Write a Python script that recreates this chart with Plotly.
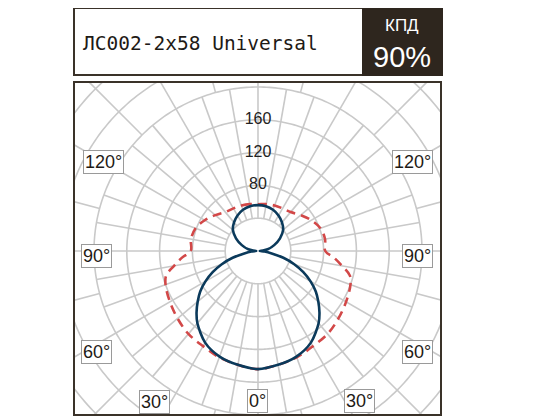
import numpy as np
import plotly.graph_objects as go

# ---- data (cd/klm) ----
angles_c0 = [0, 10, 20, 30, 40, 45, 50, 55, 60, 65, 70, 75, 80, 85, 90,
             95, 100, 110, 120, 130, 140, 150, 160, 170, 180]
values_c0 = [144, 141, 137, 129, 115, 106, 96, 86, 74, 61, 47, 32, 17, 8, 2,
             6, 12, 21, 31, 40, 45.5, 50, 53.5, 55.5, 56]

angles_c90 = [0, 10, 20, 30, 40, 50, 60, 70, 75, 80, 85, 90,
              100, 110, 120, 130, 140, 150, 160, 170, 180]
values_c90 = [144, 141, 138, 134, 132, 128, 124, 120, 116, 104, 93, 82,
              83, 81, 75, 68, 62, 60, 59, 58, 57]

ring_values = [40, 80, 120, 160, 200, 240, 280]
ring_labels = [80, 120, 160]
inner_spoke_step = 10      # spokes between the 40 and 200 rings
outer_spoke_step = 15      # spokes beyond the 200 ring
spoke_switch = 200
angle_labels = ["0°", "30°", "30°", "60°", "60°", "90°", "90°", "120°", "120°"]

title_text = "ЛС002-2x58 Universal"
eff_label = "КПД"
eff_value = "90%"

# page body has an 8px margin; the figure is taller than the window so the
# polar grid can reach the corners of the frame (the overflow is not shown)
OFF = 8
W, H = 533 - OFF, 500
CX, CY = 258, 251          # centre in window pixels
R_PX = 242
SCALE = 0.82
RMAX = R_PX / SCALE

def px(x): return (x - OFF) / W
def py(y): return 1 - (y - OFF) / H

def mirror(a, v):
    a = np.array(a, float); v = np.array(v, float)
    th = np.concatenate([-a[::-1], a[1:]])
    rr = np.concatenate([v[::-1], v[1:]])
    return th, rr

fig = go.Figure()

grid_color = "#c9c9c9"
th_ring, r_ring = [], []
circle = np.arange(0, 361, 1)
for rv in ring_values:
    th_ring += list(circle) + [None]
    r_ring += [rv] * len(circle) + [None]
fig.add_trace(go.Scatterpolar(theta=th_ring, r=r_ring, mode="lines",
                              line=dict(color=grid_color, width=1.6),
                              hoverinfo="skip", showlegend=False))
th_sp, r_sp = [], []
for a in range(0, 360, inner_spoke_step):
    th_sp += [a, a, None]
    r_sp += [ring_values[0], spoke_switch, None]
for a in range(0, 360, outer_spoke_step):
    th_sp += [a, a, None]
    r_sp += [spoke_switch, RMAX, None]
fig.add_trace(go.Scatterpolar(theta=th_sp, r=r_sp, mode="lines",
                              line=dict(color=grid_color, width=1.6),
                              hoverinfo="skip", showlegend=False))

th90, r90 = mirror(angles_c90, values_c90)
fig.add_trace(go.Scatterpolar(theta=th90, r=r90, mode="lines",
                              line=dict(color="#d24848", width=2.6, dash="9px,6px", shape="spline"),
                              showlegend=False))
th0, r0 = mirror(angles_c0, values_c0)
fig.add_trace(go.Scatterpolar(theta=th0, r=r0, mode="lines",
                              line=dict(color="#0b3a5b", width=2.6, shape="spline", smoothing=0.8),
                              showlegend=False))

fig.add_trace(go.Scatterpolar(theta=[180] * len(ring_labels), r=ring_labels, mode="text",
                              text=[str(v) for v in ring_labels],
                              textfont=dict(family="Liberation Sans, Arial, sans-serif", size=16, color="#222"),
                              hoverinfo="skip", showlegend=False))

fig.update_layout(
    width=W, height=H, margin=dict(l=0, r=0, t=0, b=0),
    paper_bgcolor="white", plot_bgcolor="white",
    polar=dict(
        domain=dict(x=[px(CX - R_PX), px(CX + R_PX)],
                    y=[py(CY + R_PX), py(CY - R_PX)]),
        bgcolor="rgba(0,0,0,0)",
        radialaxis=dict(range=[0, RMAX], visible=False, showgrid=False),
        angularaxis=dict(rotation=270, direction="counterclockwise", showgrid=False,
                         showline=False, showticklabels=False, ticks=""),
    ),
)

FL, FR, FT, FB = 74, 441, 82, 415
BIGX, BIGY = 560, 520
shapes = []
for x0, x1, y0, y1 in [(0, FL, 0, BIGY), (FR, BIGX, 0, BIGY), (0, BIGX, 0, FT), (0, BIGX, FB, BIGY)]:
    shapes.append(dict(type="rect", xref="paper", yref="paper", layer="above",
                       x0=px(x0), x1=px(x1), y0=py(y1), y1=py(y0),
                       fillcolor="white", line=dict(width=0)))
shapes.append(dict(type="rect", xref="paper", yref="paper", layer="above",
                   x0=px(FL), x1=px(FR), y0=py(FB), y1=py(FT),
                   line=dict(color="#3a3229", width=2)))
shapes.append(dict(type="rect", xref="paper", yref="paper", layer="above",
                   x0=px(74), x1=px(442), y0=py(75), y1=py(8),
                   fillcolor="white", line=dict(color="#3a3229", width=2)))
shapes.append(dict(type="rect", xref="paper", yref="paper", layer="above",
                   x0=px(363), x1=px(442), y0=py(75), y1=py(8),
                   fillcolor="#2e261e", line=dict(color="#2e261e", width=2)))
fig.update_layout(shapes=shapes)

ann = [
    dict(x=px(81), y=py(43), text=title_text, xanchor="left", yanchor="middle",
         font=dict(family="DejaVu Sans Mono, Liberation Mono, monospace", size=19.5, color="#1e1a16")),
    dict(x=px(402), y=py(25), text=eff_label, xanchor="center", yanchor="middle",
         font=dict(family="Liberation Sans, Arial, sans-serif", size=17, color="white")),
    dict(x=px(402), y=py(57), text=eff_value, xanchor="center", yanchor="middle",
         font=dict(family="Liberation Sans, Arial, sans-serif", size=29, color="white")),
]
label_pos = [(257, 400.5), (154, 401.5), (359.5, 400.5), (96.5, 351.5), (417, 351.5),
             (96, 256), (417, 256), (103, 162.5), (412, 162.5)]
for t, (x, y) in zip(angle_labels, label_pos):
    ann.append(dict(x=px(x), y=py(y), text=t, xanchor="center", yanchor="middle",
                    bgcolor="white", bordercolor="#9a9a9a", borderwidth=1, borderpad=1,
                    font=dict(family="Liberation Sans, Arial, sans-serif", size=18, color="#1e1a16")))
for a in ann:
    a["showarrow"] = False
    a["xref"] = "paper"; a["yref"] = "paper"
fig.update_layout(annotations=ann)

fig.write_html("out.html")
